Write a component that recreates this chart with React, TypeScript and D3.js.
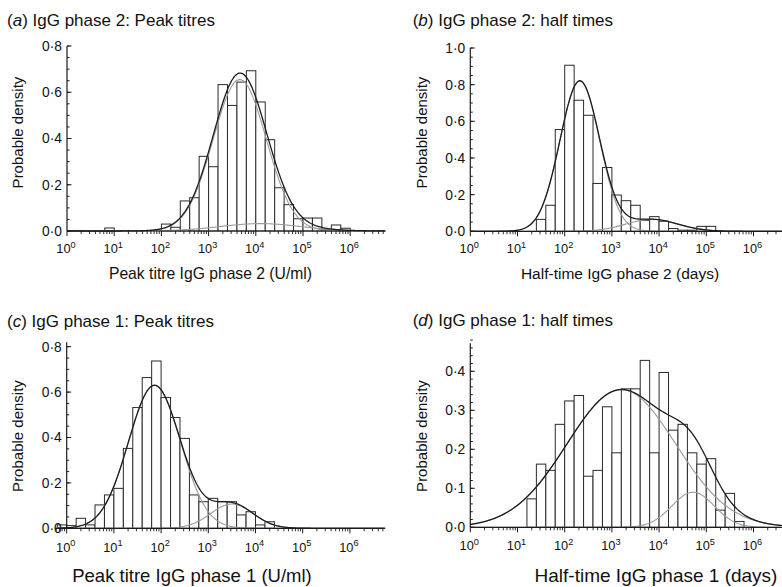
import React from 'react';
import * as d3 from 'd3';

// ---------- DATA ----------
// Histogram bins: lower edge in log10 units, each bin 0.2 decades wide
const binWidthLog = 0.2;

const binsA = [0.8, 2.0, 2.2, 2.4, 2.6, 2.8, 3.0, 3.2, 3.4, 3.6, 3.8, 4.0, 4.2, 4.4, 4.6, 4.8, 5.0, 5.2, 5.4, 5.6, 5.8];
const densityA = [0.013, 0.03, 0.016, 0.13, 0.144, 0.323, 0.278, 0.633, 0.543, 0.644, 0.693, 0.558, 0.395, 0.187, 0.114, 0.053, 0.056, 0.056, 0.006, 0.026, 0.012];

const binsB = [1.4, 1.6, 1.8, 2.0, 2.2, 2.4, 2.6, 2.8, 3.0, 3.2, 3.4, 3.6, 3.8, 4.0, 4.2, 4.4, 4.6, 4.8, 5.0];
const densityB = [0.065, 0.142, 0.555, 0.906, 0.715, 0.633, 0.261, 0.348, 0.198, 0.167, 0.142, 0.06, 0.08, 0.055, 0.015, 0.006, 0.006, 0.027, 0.027];

const binsC = [-0.2, 0.0, 0.2, 0.4, 0.6, 0.8, 1.0, 1.2, 1.4, 1.6, 1.8, 2.0, 2.2, 2.4, 2.6, 2.8, 3.0, 3.2, 3.4, 3.6, 3.8, 4.0, 4.2];
const densityC = [0.015, 0.012, 0.044, 0.015, 0.103, 0.147, 0.176, 0.352, 0.532, 0.664, 0.737, 0.576, 0.488, 0.396, 0.147, 0.117, 0.132, 0.117, 0.117, 0.059, 0.073, 0.015, 0.029];

const binsD = [1.2, 1.4, 1.6, 1.8, 2.0, 2.2, 2.4, 2.6, 2.8, 3.0, 3.2, 3.4, 3.6, 3.8, 4.0, 4.2, 4.4, 4.6, 4.8, 5.0, 5.2, 5.4, 5.6];
const densityD = [0.073, 0.162, 0.146, 0.264, 0.324, 0.338, 0.131, 0.146, 0.309, 0.191, 0.355, 0.355, 0.428, 0.191, 0.397, 0.249, 0.264, 0.191, 0.162, 0.176, 0.044, 0.087, 0.015];

// Fitted mixture components (peak height, mean and sd in log10 units)
const fitA_peak = [0.655, 0.032];
const fitA_mean = [3.66, 4.1];
const fitA_sd = [0.563, 0.85];

const fitB_peak = [0.82, 0.065];
const fitB_mean = [2.32, 3.85];
const fitB_sd = [0.42, 0.55];

const fitC_peak = [0.63, 0.107];
const fitC_mean = [1.86, 3.5];
const fitC_sd = [0.55, 0.45];

const fitD_peak = [0.353, 0.09];
const fitD_mean = [3.2, 4.72];
const fitD_sd = [1.15, 0.45];

const decadeExponents = [0, 1, 2, 3, 4, 5, 6];

const titles = ['IgG phase 2: Peak titres', 'IgG phase 2: half times', 'IgG phase 1: Peak titres', 'IgG phase 1: half times'];
const letters = ['a', 'b', 'c', 'd'];
const xLabels = ['Peak titre IgG phase 2 (U/ml)', 'Half-time IgG phase 2 (days)', 'Peak titre IgG phase 1 (U/ml)', 'Half-time IgG phase 1 (days)'];
const yLabel = 'Probable density';

// ---------- LAYOUT ----------
const FONT = '"Liberation Sans", Arial, Helvetica, sans-serif';
const DARK = '#1c1c1c';
const GREY = '#9b9b9b';

type Cfg = {
  idx: number;
  bins: number[]; dens: number[];
  peak: number[]; mean: number[]; sd: number[];
  xRange: [number, number]; logMax: number; logAxisMin: number; curveMin: number;
  yBase: number; yTopPx: number; yTopVal: number; yAxisTop: number;
  major: number; minor: number;
  titlePos: [number, number]; yLabelPos: [number, number]; xLabelPos: [number, number];
  xLabelSize: number; tickLabelY: number;
};

const panels: Cfg[] = [
  {
    idx: 0, bins: binsA, dens: densityA, peak: fitA_peak, mean: fitA_mean, sd: fitA_sd,
    xRange: [67, 385.6], logMax: 6.75, logAxisMin: 0, curveMin: 0,
    yBase: 231, yTopPx: 46, yTopVal: 0.8, yAxisTop: 0.8, major: 0.2, minor: 0.05,
    titlePos: [7, 26], yLabelPos: [23, 132.5], xLabelPos: [210.5, 279], xLabelSize: 15.7, tickLabelY: 253,
  },
  {
    idx: 1, bins: binsB, dens: densityB, peak: fitB_peak, mean: fitB_mean, sd: fitB_sd,
    xRange: [470.3, 781.8], logMax: 6.6, logAxisMin: 0, curveMin: 0,
    yBase: 231.3, yTopPx: 48, yTopVal: 1.0, yAxisTop: 1.0, major: 0.2, minor: 0.05,
    titlePos: [412.7, 26], yLabelPos: [427, 132.5], xLabelPos: [620, 279], xLabelSize: 15.5, tickLabelY: 253,
  },
  {
    idx: 2, bins: binsC, dens: densityC, peak: fitC_peak, mean: fitC_mean, sd: fitC_sd,
    xRange: [66.7, 385.3], logMax: 6.75, logAxisMin: -0.25, curveMin: -0.2,
    yBase: 528.3, yTopPx: 346.7, yTopVal: 0.8, yAxisTop: 0.82, major: 0.2, minor: 0.05,
    titlePos: [7, 327], yLabelPos: [23, 436], xLabelPos: [192, 582], xLabelSize: 18.5, tickLabelY: 551.5,
  },
  {
    idx: 3, bins: binsD, dens: densityD, peak: fitD_peak, mean: fitD_mean, sd: fitD_sd,
    xRange: [470.3, 781.8], logMax: 6.6, logAxisMin: 0, curveMin: 0,
    yBase: 527.3, yTopPx: 371.3, yTopVal: 0.4, yAxisTop: 0.472, major: 0.1, minor: 0.02,
    titlePos: [412.7, 326], yLabelPos: [427, 436], xLabelPos: [656, 582], xLabelSize: 19, tickLabelY: 550,
  },
];

function Panel({ c }: { c: Cfg }) {
  const x = d3.scaleLog().domain([1, Math.pow(10, c.logMax)]).range(c.xRange);
  const xl = (t: number) => x(Math.pow(10, t));
  const y = d3.scaleLinear().domain([0, c.yTopVal]).range([c.yBase, c.yTopPx]);

  const axisX0 = xl(0);
  const fmt = (v: number) => d3.format('.1f')(v).replace('.', '·');

  // curves
  const samples = d3.range(c.curveMin, c.logMax + 1e-9, 0.02);
  const comp = (i: number, t: number) => c.peak[i] * Math.exp(-((t - c.mean[i]) ** 2) / (2 * c.sd[i] ** 2));
  const line = d3.line<[number, number]>().x(d => xl(d[0])).y(d => y(d[1])).curve(d3.curveLinear);
  const compPaths = c.peak.map((_, i) => line(samples.map(t => [t, comp(i, t)] as [number, number])) || '');
  const totalPath = line(samples.map(t => [t, c.peak.reduce((s, _, i) => s + comp(i, t), 0)] as [number, number])) || '';

  // y ticks
  const nMinor = Math.round(c.yAxisTop / c.minor + 1e-6);
  const yMinor = d3.range(0, nMinor + 1).map(i => +(i * c.minor).toFixed(4));
  const nMajor = Math.round(c.yTopVal / c.major + 1e-6);
  const yMajor = d3.range(0, nMajor + 1).map(i => +(i * c.major).toFixed(4));

  // x ticks
  const xMinor: number[] = [];
  for (let d = Math.floor(c.logAxisMin); d <= Math.ceil(c.logMax); d++) {
    for (let k = 2; k <= 9; k++) {
      const v = d + Math.log10(k);
      if (v >= c.logAxisMin && v <= c.logMax) xMinor.push(v);
    }
  }

  const [tx, ty] = c.titlePos;
  return (
    <g>
      <text x={tx} y={ty} fontFamily={FONT} fontSize={17} fill="#111">
        (<tspan fontStyle="italic">{letters[c.idx]}</tspan>) {titles[c.idx]}
      </text>
      {/* bars */}
      {c.bins.map((b, i) => (
        <rect key={i} x={xl(b)} y={y(c.dens[i])} width={xl(b + binWidthLog) - xl(b)} height={c.yBase - y(c.dens[i])}
          fill="#fff" stroke="#2a2a2a" strokeWidth={1} />
      ))}
      {/* fitted curves */}
      {compPaths.map((p, i) => <path key={i} d={p} fill="none" stroke={GREY} strokeWidth={1.1} />)}
      <path d={totalPath} fill="none" stroke={DARK} strokeWidth={1.3} />
      {/* y axis */}
      <line x1={axisX0} x2={axisX0} y1={y(c.yAxisTop)} y2={c.yBase} stroke={DARK} strokeWidth={1.2} />
      {yMinor.map((v, i) => <line key={'ym' + i} x1={axisX0} x2={axisX0 + 2.5} y1={y(v)} y2={y(v)} stroke={DARK} strokeWidth={1} />)}
      {yMajor.map((v, i) => (
        <g key={'yM' + i}>
          <line x1={axisX0} x2={axisX0 + 4.5} y1={y(v)} y2={y(v)} stroke={DARK} strokeWidth={1} />
          <text x={axisX0 - 5} y={y(v)} dy="0.36em" textAnchor="end" fontFamily={FONT} fontSize={13.8} fill="#111">{fmt(v)}</text>
        </g>
      ))}
      {/* x axis */}
      <line x1={xl(c.logAxisMin)} x2={xl(c.logMax)} y1={c.yBase} y2={c.yBase} stroke={DARK} strokeWidth={1.2} />
      {xMinor.map((v, i) => <line key={'xm' + i} x1={xl(v)} x2={xl(v)} y1={c.yBase} y2={c.yBase + 3} stroke={DARK} strokeWidth={0.9} />)}
      {decadeExponents.map(e => (
        <g key={'xM' + e}>
          <line x1={xl(e)} x2={xl(e)} y1={c.yBase} y2={c.yBase + 5} stroke={DARK} strokeWidth={1} />
          <text x={xl(e) - 1} y={c.tickLabelY} textAnchor="middle" fontFamily={FONT} fontSize={12.8} fill="#111">
            10<tspan fontSize={9.2} dy={-5.5}>{e}</tspan>
          </text>
        </g>
      ))}
      {/* axis labels */}
      <text x={c.xLabelPos[0]} y={c.xLabelPos[1]} textAnchor="middle" fontFamily={FONT} fontSize={c.xLabelSize} fill="#111">{xLabels[c.idx]}</text>
      <text transform={`translate(${c.yLabelPos[0]},${c.yLabelPos[1]}) rotate(-90)`} textAnchor="middle" fontFamily={FONT} fontSize={15} fill="#111">{yLabel}</text>
    </g>
  );
}

export default function App() {
  return (
    <svg width={782} height={587} viewBox="0 0 782 587" style={{ position: 'absolute', left: 0, top: 0, background: '#fff' }}>
      <rect x={0} y={0} width={782} height={587} fill="#fff" />
      {panels.map(p => <Panel key={p.idx} c={p} />)}
    </svg>
  );
}
